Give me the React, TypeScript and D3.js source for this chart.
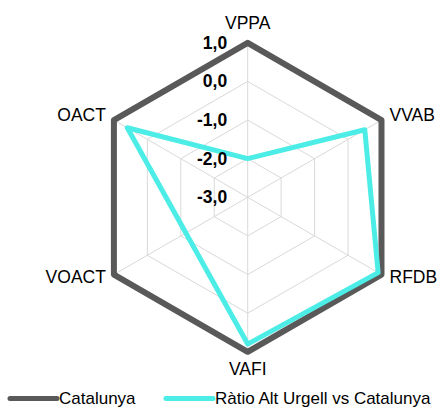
import React from "react";
import * as d3 from "d3";

const axes = ["VPPA", "VVAB", "RFDB", "VAFI", "VOACT", "OACT"];
const catalunya: (number | null)[] = [1, 1, 1, 1, 1, 1];
const altUrgell: (number | null)[] = [-2.0, 0.5, 0.9, 0.8, null, 0.6];
const tickValues = [1, 0, -1, -2, -3];
const tickLabels = ["1,0", "0,0", "-1,0", "-2,0", "-3,0"];
const seriesNames = ["Catalunya", "Ràtio Alt Urgell vs Catalunya"];
const seriesColors = ["#595959", "#4BEDE6"];

const W = 438;
const H = 407;
const cx = 247.7;
const cy = 197.3;
const R = 154.5;
const FONT = "'Liberation Sans', Arial, Helvetica, sans-serif";

export default function App() {
  const r = d3.scaleLinear().domain([-3, 1]).range([0, R]);
  const angle = d3
    .scaleLinear()
    .domain([0, axes.length])
    .range([0, 2 * Math.PI]);

  const pt = (i: number, v: number): [number, number] => {
    const a = angle(i);
    return [cx + r(v) * Math.sin(a), cy - r(v) * Math.cos(a)];
  };

  const gridRings = tickValues.filter((v) => v > -3);

  const seriesPath = (vals: (number | null)[]) => {
    const pts = vals
      .map((v, i) => (v === null ? null : pt(i, v)))
      .filter((p): p is [number, number] => p !== null);
    return d3.line().curve(d3.curveLinearClosed)(pts) || "";
  };

  const legendItems = [
    { x1: 10, x2: 57, tx: 59 },
    { x1: 166, x2: 213, tx: 215 },
  ];

  return (
    <svg
      width={W}
      height={H}
      style={{ position: "absolute", left: 0, top: 0, background: "#fff" }}
      fontFamily={FONT}
    >
      {gridRings.map((v) => (
        <path
          key={"ring" + v}
          d={
            d3.line().curve(d3.curveLinearClosed)(
              axes.map((_, i) => pt(i, v))
            ) || ""
          }
          fill="none"
          stroke="#d9d9d9"
          strokeWidth={1}
        />
      ))}
      {axes.map((_, i) => {
        const [x, y] = pt(i, 1);
        return (
          <line
            key={"spoke" + i}
            x1={cx}
            y1={cy}
            x2={x}
            y2={y}
            stroke="#d9d9d9"
            strokeWidth={1}
          />
        );
      })}
      <path
        d={seriesPath(catalunya)}
        fill="none"
        stroke={seriesColors[0]}
        strokeWidth={6}
        strokeLinejoin="round"
      />
      <path
        d={seriesPath(altUrgell)}
        fill="none"
        stroke={seriesColors[1]}
        strokeWidth={5}
        strokeLinejoin="round"
      />
      {tickValues.map((v, k) => (
        <text
          key={"tick" + v}
          x={cx - 20.5}
          y={cy - r(v) + 6}
          textAnchor="end"
          fontSize={17.5}
          fontWeight="bold"
          fill="#000"
        >
          {tickLabels[k]}
        </text>
      ))}
      {axes.map((name, i) => {
        const a = angle(i);
        const dx = Math.sin(a);
        const dy = -Math.cos(a);
        const [vx, vy] = pt(i, 1);
        let x = vx;
        let y = vy;
        let anchor: "start" | "middle" | "end" = "middle";
        if (Math.abs(dx) < 0.01) {
          y = dy < 0 ? vy - 13.5 : vy + 23;
        } else {
          anchor = dx > 0 ? "start" : "end";
          x = vx + (dx > 0 ? 8 : -8);
          y = vy + 4.5 + 8 * dy;
        }
        return (
          <text
            key={"ax" + name}
            x={x}
            y={y}
            textAnchor={anchor}
            fontSize={17.5}
            fill="#000"
          >
            {name}
          </text>
        );
      })}
      {seriesNames.map((name, k) => (
        <g key={"leg" + k}>
          <line
            x1={legendItems[k].x1}
            x2={legendItems[k].x2}
            y1={398.5}
            y2={398.5}
            stroke={seriesColors[k]}
            strokeWidth={5}
            strokeLinecap="round"
          />
          <text x={legendItems[k].tx} y={403.5} fontSize={17} fill="#000">
            {name}
          </text>
        </g>
      ))}
    </svg>
  );
}
